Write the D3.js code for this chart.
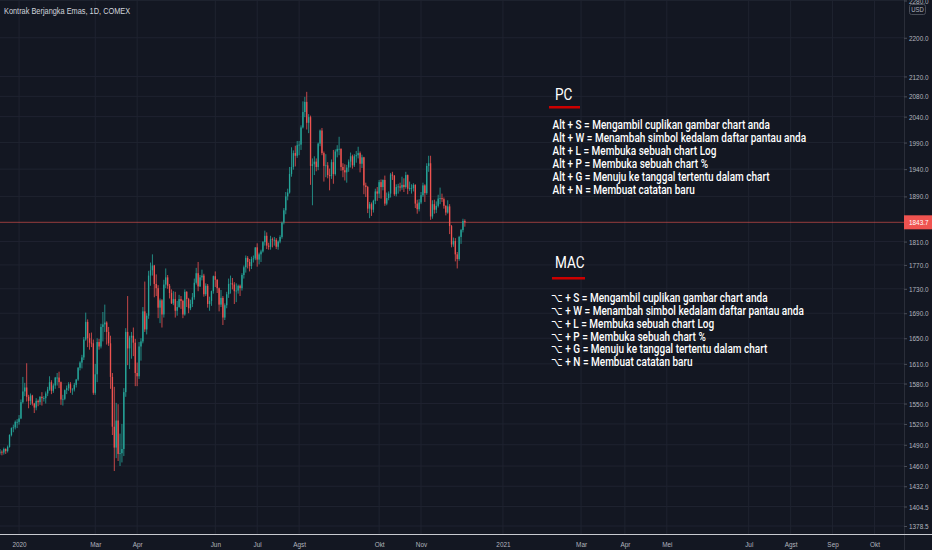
<!DOCTYPE html>
<html>
<head>
<meta charset="utf-8">
<script src="https://cdn.jsdelivr.net/npm/d3@7"></script>
<style>
html, body { margin: 0; padding: 0; background: #131722; overflow: hidden; }
svg { display: block; }
text { font-family: "Liberation Sans", Arial, sans-serif; }
text.note { font-family: Roboto, "Liberation Sans", sans-serif; }
</style>
</head>
<body>
<div id="chart"></div>
<script>
// daily bars, gold futures COMEX : [day, open, high, low, close]
const dec2019 = [[17,1479,1484,1476,1480],[18,1480,1482,1475,1479],[19,1479,1486,1476,1484],[20,1484,1485,1477,1481],
  [23,1481,1489,1479,1487],[24,1487,1505,1486,1504],[26,1504,1515,1502,1514],[27,1514,1519,1508,1515],
  [30,1515,1525,1512,1523],[31,1523,1527,1514,1523]];
const jan2020 = [[2,1523,1533,1519,1528],[3,1528,1556,1527,1552],[6,1552,1590,1550,1568],[7,1568,1581,1561,1574],
  [8,1574,1611,1553,1560],[9,1560,1563,1543,1554],[10,1554,1565,1548,1562],[13,1562,1563,1547,1550],
  [14,1550,1551,1536,1544],[15,1544,1558,1540,1554],[16,1554,1556,1546,1552],[17,1552,1561,1548,1560],
  [21,1560,1567,1547,1558],[22,1558,1561,1553,1558],[23,1558,1568,1550,1565],[24,1565,1575,1561,1571],
  [27,1571,1591,1569,1582],[28,1582,1585,1564,1569],[29,1569,1580,1566,1577],[30,1577,1590,1572,1589],
  [31,1589,1596,1577,1589]];
const feb2020 = [[3,1589,1598,1573,1582],[4,1582,1583,1548,1556],[5,1556,1563,1547,1557],[6,1557,1571,1555,1570],
  [7,1570,1577,1564,1573],[10,1573,1582,1569,1579],[11,1579,1582,1566,1571],[12,1571,1573,1563,1571],
  [13,1571,1581,1568,1578],[14,1578,1587,1574,1586],[18,1586,1605,1584,1604],[19,1604,1614,1600,1612],
  [20,1612,1624,1603,1620],[21,1620,1652,1616,1648],[24,1648,1691,1646,1676],[25,1676,1680,1636,1650],
  [26,1650,1658,1632,1643],[27,1643,1659,1636,1642],[28,1642,1648,1563,1566]];
const mar2020 = [[2,1566,1610,1563,1594],[3,1594,1650,1582,1644],[4,1644,1649,1632,1637],[5,1637,1673,1634,1668],
  [6,1668,1692,1645,1672],[9,1672,1704,1660,1675],[10,1675,1677,1640,1660],[11,1660,1668,1638,1642],
  [12,1642,1654,1572,1590],[13,1590,1596,1504,1516],[16,1516,1575,1453,1486],[17,1486,1551,1471,1525],
  [18,1525,1549,1467,1477],[19,1477,1506,1460,1478],[20,1478,1520,1465,1484],[23,1484,1573,1474,1567],
  [24,1567,1666,1560,1660],[25,1660,1718,1608,1634],[26,1634,1654,1602,1651],[27,1651,1660,1618,1654],
  [30,1654,1667,1622,1643],[31,1643,1649,1576,1596]];
const apr2020 = [[1,1596,1612,1576,1591],[2,1591,1644,1587,1637],[3,1637,1650,1615,1645],[6,1645,1700,1642,1693],
  [7,1693,1742,1660,1664],[8,1664,1690,1656,1686],[9,1686,1760,1681,1752],[13,1752,1774,1735,1761],
  [14,1761,1788,1752,1769],[15,1769,1770,1716,1738],[16,1738,1754,1718,1731],[17,1731,1736,1682,1699],
  [20,1699,1714,1674,1711],[21,1711,1713,1667,1688],[22,1688,1745,1683,1737],[23,1737,1764,1731,1749],
  [24,1749,1753,1730,1735],[27,1735,1738,1714,1723],[28,1723,1729,1705,1706],[29,1706,1726,1703,1713],
  [30,1713,1725,1683,1694]];
const may2020 = [[1,1694,1710,1686,1700],[4,1700,1720,1699,1713],[5,1713,1718,1697,1710],[6,1710,1712,1682,1688],
  [7,1688,1729,1686,1725],[8,1725,1726,1700,1713],[11,1713,1715,1690,1698],[12,1698,1712,1695,1705],
  [13,1705,1723,1700,1716],[14,1716,1747,1712,1740],[15,1740,1765,1737,1756],[18,1756,1775,1726,1734],
  [19,1734,1753,1733,1749],[20,1749,1762,1744,1752],[21,1752,1755,1717,1721],[22,1721,1739,1718,1735],
  [26,1735,1738,1699,1705],[27,1705,1717,1694,1710],[28,1710,1727,1702,1726],[29,1726,1752,1722,1751]];
const jun2020 = [[1,1751,1759,1733,1745],[2,1745,1746,1723,1731],[3,1731,1732,1693,1704],[4,1704,1728,1700,1715],
  [5,1715,1718,1671,1683],[8,1683,1706,1679,1703],[9,1703,1725,1698,1721],[10,1721,1747,1715,1738],
  [11,1738,1752,1722,1739],[12,1739,1748,1729,1737],[15,1737,1741,1705,1726],[16,1726,1739,1708,1727],
  [17,1727,1737,1722,1735],[18,1735,1737,1718,1731],[19,1731,1756,1727,1753],[22,1753,1769,1747,1766],
  [23,1766,1786,1757,1782],[24,1782,1785,1764,1775],[25,1775,1780,1759,1768],[26,1768,1784,1763,1780],
  [29,1780,1786,1774,1781],[30,1781,1800,1778,1800]];
const jul2020 = [[1,1800,1807,1767,1779],[2,1779,1791,1771,1788],[6,1788,1796,1775,1793],[7,1793,1811,1791,1809],
  [8,1809,1829,1803,1820],[9,1820,1826,1797,1803],[10,1803,1808,1796,1801],[13,1801,1820,1796,1814],
  [14,1814,1817,1800,1813],[15,1813,1818,1803,1813],[16,1813,1816,1797,1801],[17,1801,1812,1796,1810],
  [20,1810,1821,1807,1818],[21,1818,1845,1815,1843],[22,1843,1869,1840,1865],[23,1865,1898,1858,1890],
  [24,1890,1904,1883,1897],[27,1897,1944,1895,1931],[28,1931,1981,1926,1944],[29,1944,1975,1939,1970],
  [30,1970,1984,1945,1965],[31,1965,1993,1961,1985]];
const aug2020 = [[3,1985,1993,1966,1986],[4,1986,2023,1976,2019],[5,2019,2070,2017,2049],[6,2049,2079,2039,2069],
  [7,2069,2089,2015,2028],[10,2028,2045,2008,2039],[11,2039,2042,1911,1946],[12,1946,1960,1874,1949],
  [13,1949,1964,1929,1954],[14,1954,1960,1936,1944],[17,1944,1990,1938,1988],[18,1988,2015,1983,2013],
  [19,2013,2018,1966,1970],[20,1970,1973,1917,1946],[21,1946,1968,1925,1947],[24,1947,1953,1923,1929],
  [25,1929,1941,1901,1927],[26,1927,1958,1922,1953],[27,1953,1976,1913,1931],[28,1931,1977,1928,1973],
  [31,1973,1985,1962,1978]];
const sep2020 = [[1,1978,2001,1966,1978],[2,1978,1979,1937,1944],[3,1944,1951,1925,1938],[4,1938,1949,1919,1934],
  [8,1934,1948,1915,1943],[9,1943,1958,1935,1954],[10,1954,1971,1943,1964],[11,1964,1967,1941,1947],
  [14,1947,1968,1944,1964],[15,1964,1974,1952,1966],[16,1966,1982,1960,1970],[17,1970,1973,1934,1950],
  [18,1950,1967,1942,1962],[21,1962,1963,1894,1910],[22,1910,1915,1889,1907],[23,1907,1909,1860,1868],
  [24,1868,1880,1851,1876],[25,1876,1879,1855,1866],[28,1866,1884,1861,1882],[29,1882,1904,1876,1899],
  [30,1899,1907,1882,1895]];
const oct2020 = [[1,1895,1920,1887,1916],[2,1916,1921,1886,1907],[5,1907,1921,1901,1920],[6,1920,1928,1873,1877],
  [7,1877,1897,1874,1887],[8,1887,1899,1883,1895],[9,1895,1933,1888,1930],[12,1930,1935,1920,1928],
  [13,1928,1929,1891,1894],[14,1894,1912,1890,1907],[15,1907,1913,1895,1908],[16,1908,1915,1899,1906],
  [19,1906,1926,1902,1911],[20,1911,1923,1898,1907],[21,1907,1935,1904,1929],[22,1929,1930,1894,1904],
  [23,1904,1917,1900,1905],[26,1905,1912,1895,1905],[27,1905,1914,1899,1911],[28,1911,1912,1869,1877],
  [29,1877,1884,1859,1867],[30,1867,1885,1863,1879]];
const nov2020 = [[2,1879,1898,1876,1892],[3,1892,1915,1889,1910],[4,1910,1912,1880,1896],[5,1896,1951,1893,1946],
  [6,1946,1965,1935,1951],[9,1951,1965,1848,1854],[10,1854,1883,1850,1876],[11,1876,1884,1859,1866],
  [12,1866,1881,1860,1873],[13,1873,1893,1870,1886],[16,1886,1906,1876,1887],[17,1887,1895,1880,1885],
  [18,1885,1888,1868,1873],[19,1873,1874,1856,1861],[20,1861,1883,1859,1872],[23,1872,1876,1823,1837],
  [24,1837,1839,1800,1805],[25,1805,1817,1801,1811],[27,1811,1816,1776,1788],[30,1788,1792,1764,1780]];
const dec2020 = [[1,1780,1820,1777,1818],[2,1818,1832,1806,1830],[3,1830,1850,1826,1846],[4,1846,1849,1836,1843.7]];

const months = [[2019,11,dec2019],[2020,0,jan2020],[2020,1,feb2020],[2020,2,mar2020],[2020,3,apr2020],
  [2020,4,may2020],[2020,5,jun2020],[2020,6,jul2020],[2020,7,aug2020],[2020,8,sep2020],
  [2020,9,oct2020],[2020,10,nov2020],[2020,11,dec2020]];

const priceTicks = [2280,2200,2120,2080,2040,1990,1940,1890,1810,1770,1730,1690,1650,1610,1580,1550,1520,1490,1460,1432,1404.5,1378.5];
const tickMonths = ["2020-01","2020-03","2020-04","2020-06","2020-07","2020-08","2020-10","2020-11",
  "2021-01","2021-03","2021-04","2021-05","2021-07","2021-08","2021-09","2021-10"];
const tickLabels = ["2020","Mar","Apr","Jun","Jul","Agst","Okt","Nov","2021","Mar","Apr","Mei","Jul","Agst","Sep","Okt"];
const lastPrice = 1843.7;

const title = "Kontrak Berjangka Emas, 1D, COMEX";
const pcLines = ["Alt + S = Mengambil cuplikan gambar chart anda",
  "Alt + W = Menambah simbol kedalam daftar pantau anda",
  "Alt + L = Membuka sebuah chart Log",
  "Alt + P = Membuka sebuah chart %",
  "Alt + G = Menuju ke tanggal tertentu dalam chart",
  "Alt + N = Membuat catatan baru"];
const macLines = ["\u2325 + S = Mengambil cuplikan gambar chart anda",
  "\u2325 + W = Menambah simbol kedalam daftar pantau anda",
  "\u2325 + L = Membuka sebuah chart Log",
  "\u2325 + P = Membuka sebuah chart %",
  "\u2325 + G = Menuju ke tanggal tertentu dalam chart",
  "\u2325 + N = Membuat catatan baru"];

var W = 932, H = 550, plotW = 904, plotH = 534;
var upColor = "#26a69a", downColor = "#ef5350", gridColor = "#1f2330", axisText = "#b2b5be";

// narrow the text horizontally, around its own x
function squeeze(sel, k) {
  sel.each(function() {
    var t = d3.select(this);
    var x0 = +t.attr("x") || 0;
    t.attr("transform", "translate(" + x0 + ",0) scale(" + k + ",1) translate(" + (-x0) + ",0)");
  });
}

// flatten bars
var bars = [];
months.forEach(function(m) {
  m[2].forEach(function(r) {
    bars.push({date: new Date(m[0], m[1], r[0]), o: r[1], h: r[2], l: r[3], c: r[4]});
  });
});

// bar dates, then weekdays into the empty future area
var dates = bars.map(function(d) { return d.date; });
var nd = new Date(dates[dates.length - 1]);
while (nd < new Date(2021, 10, 1)) {
  nd = d3.timeDay.offset(nd, 1);
  if (nd.getDay() != 0 && nd.getDay() != 6) dates.push(nd);
}
var parseMonth = d3.timeParse("%Y-%m");
var tickIdx = tickMonths.map(function(s) {
  var t = parseMonth(s);
  return dates.findIndex(function(d) { return d >= t; });
});

var svg = d3.select("#chart").append("svg")
  .attr("width", W).attr("height", H);
svg.append("rect").attr("width", W).attr("height", H).attr("fill", "#131722");

var x = d3.scaleLinear().domain([0, 474.5]).range([0, plotW]);
var y = d3.scaleLog().domain([1368, 2281]).range([plotH, 0]);
var step = x(1) - x(0);

// grid
svg.append("g").selectAll("line").data(tickIdx).enter().append("line")
  .attr("x1", function(d) { return x(d); }).attr("x2", function(d) { return x(d); })
  .attr("y1", 0).attr("y2", plotH)
  .attr("stroke", gridColor).attr("stroke-width", 1);
svg.append("g").selectAll("line").data(priceTicks).enter().append("line")
  .attr("x1", 0).attr("x2", plotW)
  .attr("y1", function(d) { return y(d); }).attr("y2", function(d) { return y(d); })
  .attr("stroke", gridColor).attr("stroke-width", 1);

svg.append("clipPath").attr("id", "clip").append("rect")
  .attr("width", plotW).attr("height", plotH);

var plot = svg.append("g").attr("clip-path", "url(#clip)");

// last price line
plot.append("line")
  .attr("x1", 0).attr("x2", plotW)
  .attr("y1", y(lastPrice)).attr("y2", y(lastPrice))
  .attr("stroke", downColor).attr("stroke-opacity", 0.6)
  .attr("stroke-width", 1);

// candles
var candle = plot.selectAll("g.candle").data(bars).enter().append("g")
  .attr("class", "candle");
candle.append("line")
  .attr("x1", function(d, i) { return x(i); }).attr("x2", function(d, i) { return x(i); })
  .attr("y1", function(d) { return y(d.h); }).attr("y2", function(d) { return y(d.l); })
  .attr("stroke", function(d) { return d.c >= d.o ? upColor : downColor; })
  .attr("stroke-width", 0.8);
candle.append("rect")
  .attr("x", function(d, i) { return x(i) - step * 0.35; })
  .attr("width", step * 0.7)
  .attr("y", function(d) { return y(Math.max(d.o, d.c)); })
  .attr("height", function(d) { return Math.max(0.8, Math.abs(y(d.o) - y(d.c))); })
  .attr("fill", function(d) { return d.c >= d.o ? upColor : downColor; });

// price axis
svg.append("line").attr("x1", plotW + 0.5).attr("x2", plotW + 0.5)
  .attr("y1", 0).attr("y2", H).attr("stroke", "#2a2e39");
var yAxis = svg.append("g").attr("transform", "translate(" + plotW + ",0)")
  .call(d3.axisRight(y).tickValues(priceTicks).tickFormat(d3.format(".1f")).tickSize(3).tickPadding(2));
yAxis.select(".domain").remove();
yAxis.selectAll("line").attr("stroke", "#4a4e59");
yAxis.selectAll("text").attr("fill", axisText).style("font-size", "8px");
squeeze(yAxis.selectAll("text"), 0.8);

// USD badge
svg.append("rect").attr("x", 909.5).attr("y", 4.5).attr("width", 16).attr("height", 10).attr("rx", 2)
  .attr("fill", "#131722").attr("stroke", "#4a4e59");
svg.append("text").attr("x", 917.5).attr("y", 12).attr("text-anchor", "middle")
  .attr("fill", axisText).style("font-size", "7px").text("USD")
  .call(squeeze, 0.85);

// last price label
svg.append("rect").attr("x", plotW).attr("y", y(lastPrice) - 7).attr("width", W - plotW).attr("height", 14)
  .attr("fill", downColor);
svg.append("text").attr("x", plotW + 5).attr("y", y(lastPrice) + 3)
  .attr("fill", "#ffffff").style("font-size", "8px").text(d3.format(".1f")(lastPrice))
  .call(squeeze, 0.8);

// time axis
svg.append("line").attr("x1", 0).attr("x2", W).attr("y1", plotH + 0.5).attr("y2", plotH + 0.5)
  .attr("stroke", "#c8cad0");
var xAxis = svg.append("g").attr("transform", "translate(0," + plotH + ")")
  .call(d3.axisBottom(x).tickValues(tickIdx).tickFormat(function(d, i) { return tickLabels[i]; }).tickSize(0).tickPadding(7));
xAxis.select(".domain").remove();
xAxis.selectAll("text").attr("fill", axisText).style("font-size", "8px");
squeeze(xAxis.selectAll("text"), 0.8);

// title
svg.append("text").attr("x", 4).attr("y", 14).attr("fill", "#d1d4dc")
  .style("font-size", "9px").text(title)
  .call(squeeze, 0.82);

// shortcut notes
function note(head, hx, hy, ux, uw, uy, lines, lx, ly) {
  svg.append("text").attr("class", "note").attr("x", hx).attr("y", hy).attr("fill", "#ffffff")
    .style("font-size", "16px").text(head)
    .call(squeeze, 0.85);
  svg.append("rect").attr("x", ux).attr("y", uy).attr("width", uw).attr("height", 2.5)
    .attr("fill", "#cc0000");
  var t = svg.append("g").selectAll("text").data(lines).enter().append("text")
    .attr("class", "note")
    .attr("x", lx).attr("y", function(d, i) { return ly + i * 12.85; })
    .attr("fill", "#ffffff").style("font-size", "12px").style("font-weight", 500)
    .text(function(d) { return d; });
  squeeze(t, 0.835);
}
note("PC", 555, 100, 549, 31, 106, pcLines, 552.5, 129.5);
note("MAC", 555, 268, 552, 33, 277, macLines, 551, 302);
</script>
</body>
</html>
